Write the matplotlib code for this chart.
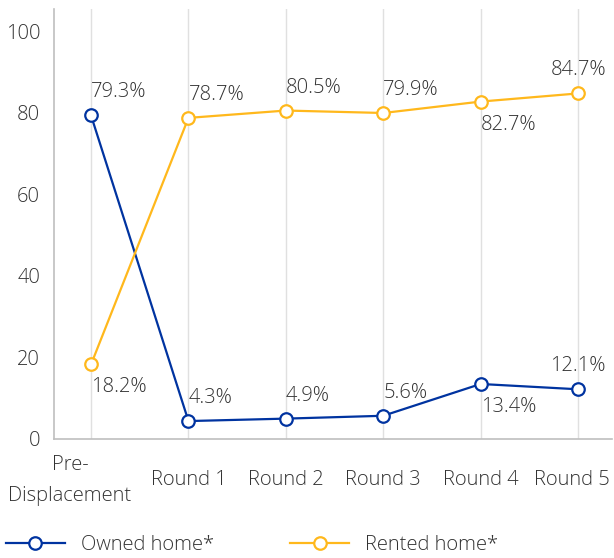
import matplotlib
matplotlib.use("Agg")
from matplotlib import pyplot as plt
from matplotlib.transforms import ScaledTranslation

plt.rcParams['font.family'] = ['Open Sans', 'DejaVu Sans']
plt.rcParams['font.weight'] = 'light'

# Share of households by tenure (%)
categories = ['Pre-\nDisplacement', 'Round 1', 'Round 2', 'Round 3', 'Round 4', 'Round 5']
owned = [79.3, 4.3, 4.9, 5.6, 13.4, 12.1]
rented = [18.2, 78.7, 80.5, 79.9, 82.7, 84.7]

# label placement: +1 above, -1 below
owned_pos = [1, 1, 1, 1, -1, 1]
rented_pos = [-1, 1, 1, 1, -1, 1]

blue = '#0033a0'
gold = '#ffb81c'
txt = '#333333'
fs = 14.5

fig = plt.figure(figsize=(6.14, 5.58), dpi=100)
ax = fig.add_axes([0.088, 0.214, 0.909, 0.769])

x = list(range(len(categories)))
for vals, col, lab in [(owned, blue, 'Owned home*'), (rented, gold, 'Rented home*')]:
    ax.plot(x, vals, color=col, lw=1.6, marker='o', ms=9, mfc='white',
            mec=col, mew=1.6, label=lab, zorder=3)

for vals, pos in [(owned, owned_pos), (rented, rented_pos)]:
    for i, (v, p) in enumerate(zip(vals, pos)):
        ha = 'center' if i == len(vals) - 1 else 'left'
        ax.annotate(f'{v}%', (i, v), xytext=(0, 23 * p), textcoords='offset pixels',
                    ha=ha, va='center', fontsize=fs, color=txt)

ax.set_xlim(-0.38, 5.35)
ax.set_ylim(0, 105.3)
ax.set_yticks(range(0, 101, 20))
ax.set_xticks(x)
ax.set_xticklabels(categories)
ax.tick_params(axis='x', length=0, pad=30, labelsize=fs, labelcolor=txt)
ax.tick_params(axis='y', length=0, pad=10, labelsize=fs, labelcolor=txt)
labels = ax.get_xticklabels()
for t in labels:
    t.set_verticalalignment('center')
    t.set_linespacing(1.7)
# first and last labels are nudged to stay inside the canvas
labels[0].set_transform(labels[0].get_transform() + ScaledTranslation(-0.21, 0, fig.dpi_scale_trans))
labels[-1].set_transform(labels[-1].get_transform() + ScaledTranslation(-0.06, 0, fig.dpi_scale_trans))

ax.grid(axis='x', color='#e0e0e0', lw=1)
ax.set_axisbelow(True)
for s in ['top', 'right']:
    ax.spines[s].set_visible(False)
for s in ['left', 'bottom']:
    ax.spines[s].set_color('#bfbfbf')
    ax.spines[s].set_linewidth(1.2)

leg = fig.legend(loc='center left', ncol=2, frameon=False, fontsize=fs,
                 handlelength=2.9, handletextpad=0.8, columnspacing=3.8,
                 borderaxespad=0, borderpad=0, labelcolor=txt)
leg.set_bbox_to_anchor((0.01, 1 - 545 / 558), transform=fig.transFigure)

fig.savefig('out.png', dpi=100)
